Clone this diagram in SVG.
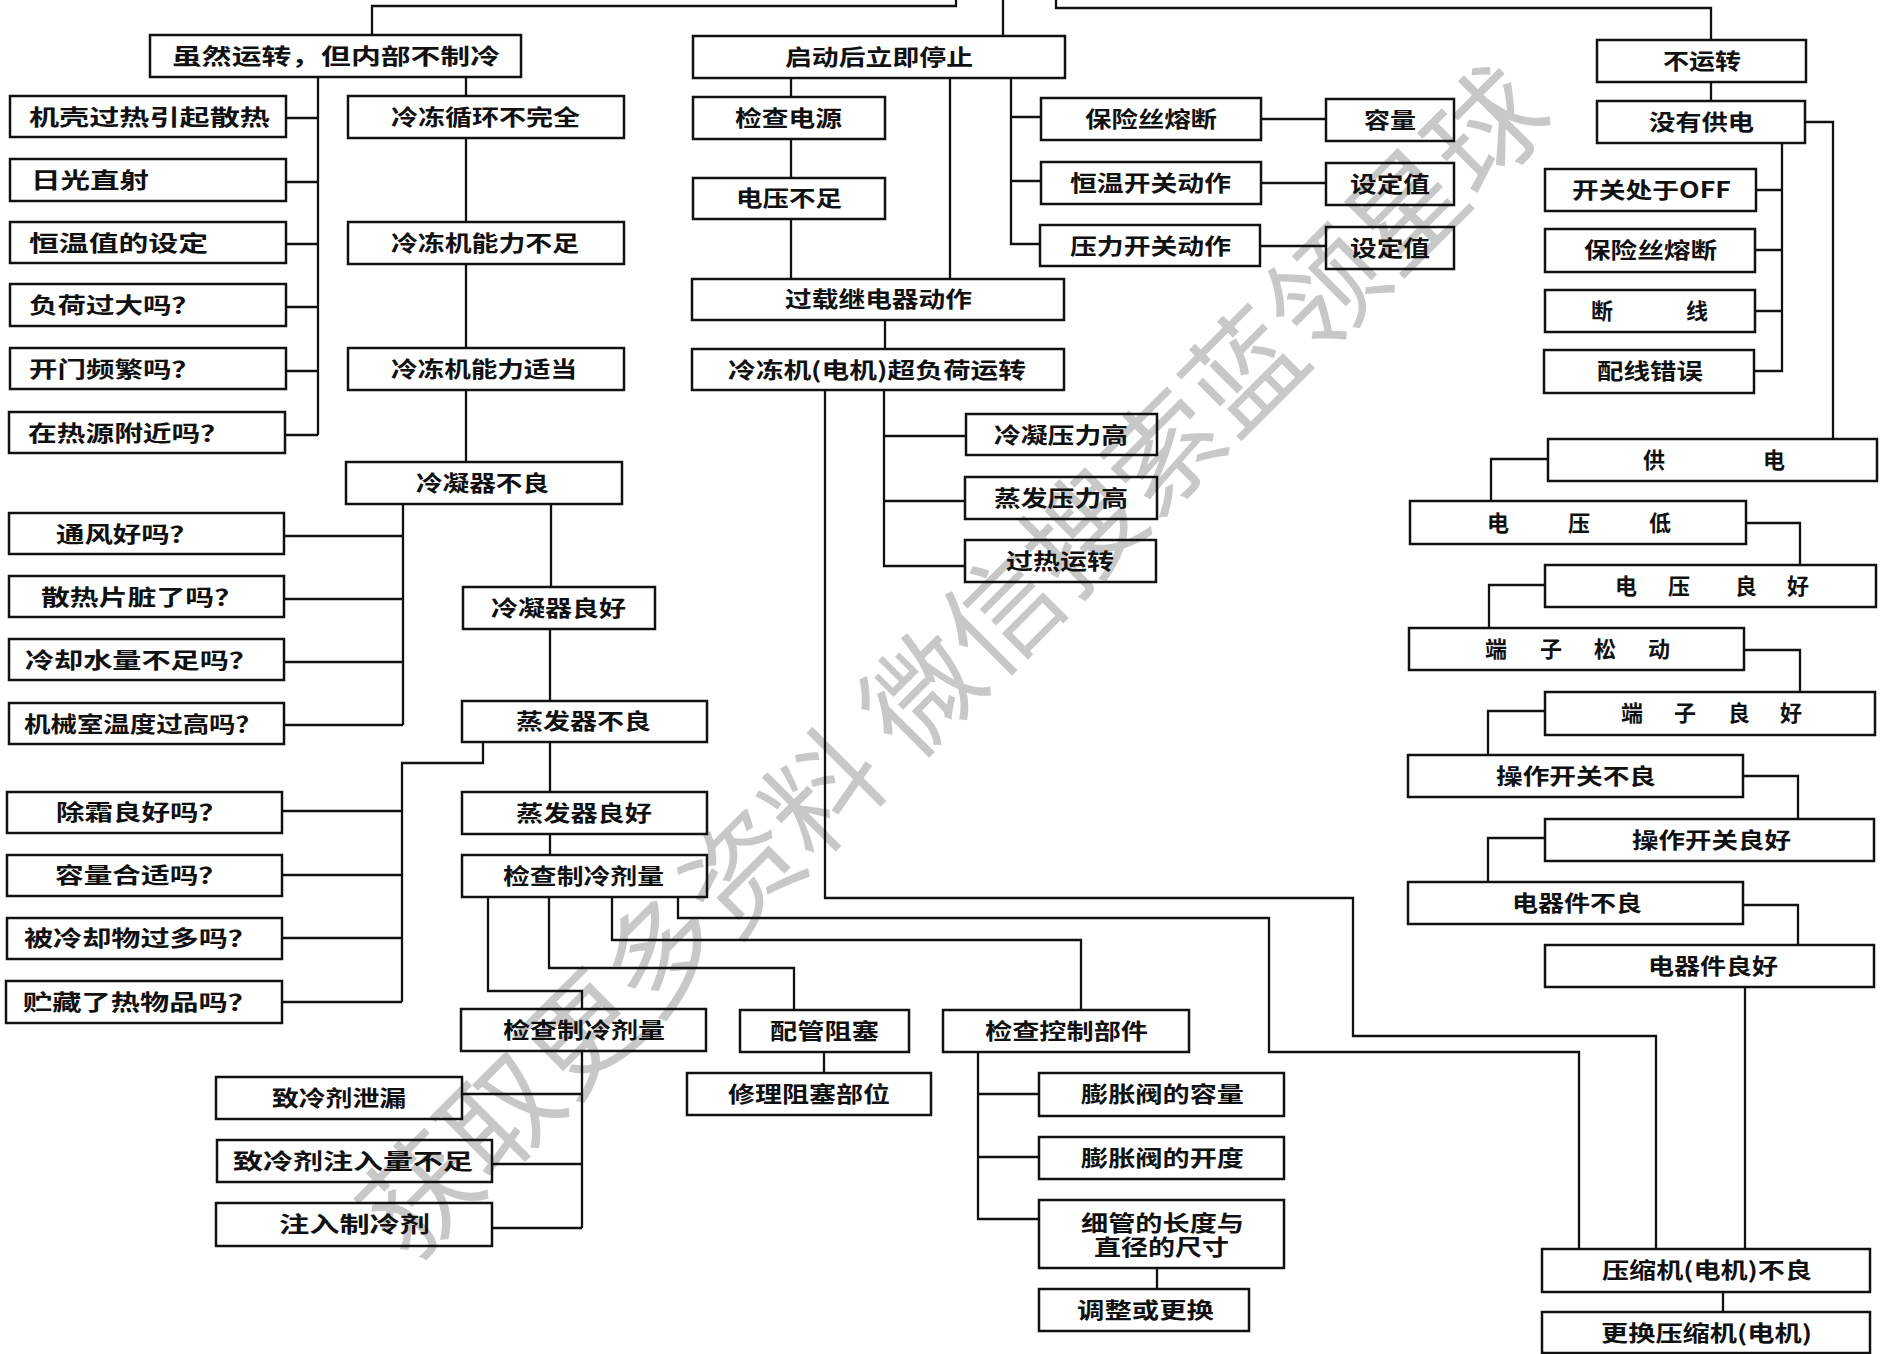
<svg xmlns="http://www.w3.org/2000/svg" width="1883" height="1354" viewBox="0 0 1883 1354">
<style>
.b{fill:none;stroke:#111;stroke-width:2.5}
#connectors path{fill:none;stroke:#111;stroke-width:2.3}
.t{font-family:"Noto Sans CJK SC","Noto Sans",sans-serif;font-size:22px;font-weight:700;fill:#111}
.wm{font-family:"Noto Sans CJK SC","Noto Sans",sans-serif;font-size:114px;fill:#c8c8c8}
</style>
<rect width="1883" height="1354" fill="#fff"/>
<g id="watermark"><text class="wm" x="953" y="704" text-anchor="middle" transform="rotate(-45 953 662)">获取更多资料 微信搜索蓝领星球</text></g>
<g id="connectors">
<path d="M372 35V6H956V0"/>
<path d="M1003 0V36"/>
<path d="M1056 0V8H1711V40"/>
<path d="M318 77V435M286 118H318M286 182H318M286 244H318M286 307H318M286 371H318M285 435H318"/>
<path d="M466 77V96M466 138V222M466 264V348M466 390V462"/>
<path d="M403 504V725M284 536H403M284 599H403M284 662H403M284 725H403"/>
<path d="M551 504V587M550 629V701"/>
<path d="M483 742V763H402V1002M282 811H402M282 875H402M282 938H402M282 1002H402"/>
<path d="M550 742V792M550 834V855"/>
<path d="M488 897V991H582V1009"/>
<path d="M549 897V968H794V1010"/>
<path d="M612 897V940H1081V1010"/>
<path d="M678 897V918H1269V1052H1579V1249"/>
<path d="M582 1051V1228M462 1094H582M492 1164H582M492 1228H582"/>
<path d="M824 1052V1073"/>
<path d="M978 1052V1219H1039M978 1094H1039M978 1157H1039"/>
<path d="M1157 1268V1289"/>
<path d="M791 78V97M791 139V178M791 219V279M950 78V279M885 320V349"/>
<path d="M1011 78V244H1040M1011 117H1041M1011 181H1041"/>
<path d="M1261 119H1326M1261 183H1326M1260 246H1326"/>
<path d="M884 390V566H965M884 436H966M884 501H965"/>
<path d="M825 390V898H1353V1036H1656V1249"/>
<path d="M1711 82V101M1805 122H1833V439M1782 143V371H1754M1756 190H1782M1755 250H1782M1755 311H1782"/>
<path d="M1548 459H1491V501M1746 523H1800V565M1545 585H1489V628M1744 650H1800V692M1545 711H1488V755M1743 776H1798V819M1545 838H1488V882M1743 905H1798V945"/>
<path d="M1745 987V1249M1723 1292V1312"/>
</g>
<g id="n_yunzhuan"><rect class="b" x="150" y="35" width="371" height="42"/><text class="t" x="172" y="64" textLength="328" lengthAdjust="spacingAndGlyphs">虽然运转，但内部不制冷</text></g>
<g id="n_jike"><rect class="b" x="10" y="96" width="276" height="41"/><text class="t" x="29" y="125" textLength="241" lengthAdjust="spacingAndGlyphs">机壳过热引起散热</text></g>
<g id="n_riguang"><rect class="b" x="10" y="159" width="276" height="42"/><text class="t" x="31" y="188" textLength="118" lengthAdjust="spacingAndGlyphs">日光直射</text></g>
<g id="n_hengwenzhi"><rect class="b" x="10" y="222" width="276" height="41"/><text class="t" x="29" y="251" textLength="179" lengthAdjust="spacingAndGlyphs">恒温值的设定</text></g>
<g id="n_fuhe"><rect class="b" x="10" y="284" width="276" height="42"/><text class="t" x="29" y="313" textLength="171" lengthAdjust="spacingAndGlyphs">负荷过大吗？</text></g>
<g id="n_kaimen"><rect class="b" x="10" y="348" width="276" height="41"/><text class="t" x="29" y="377" textLength="171" lengthAdjust="spacingAndGlyphs">开门频繁吗？</text></g>
<g id="n_reyuan"><rect class="b" x="9" y="412" width="276" height="41"/><text class="t" x="28" y="441" textLength="201" lengthAdjust="spacingAndGlyphs">在热源附近吗？</text></g>
<g id="n_xunhuan"><rect class="b" x="348" y="96" width="276" height="42"/><text class="t" x="391" y="125" textLength="189" lengthAdjust="spacingAndGlyphs">冷冻循环不完全</text></g>
<g id="n_buzu"><rect class="b" x="348" y="222" width="276" height="42"/><text class="t" x="391" y="251" textLength="188" lengthAdjust="spacingAndGlyphs">冷冻机能力不足</text></g>
<g id="n_shidang"><rect class="b" x="348" y="348" width="276" height="42"/><text class="t" x="391" y="377" textLength="186" lengthAdjust="spacingAndGlyphs">冷冻机能力适当</text></g>
<g id="n_lengning_bl"><rect class="b" x="346" y="462" width="276" height="42"/><text class="t" x="416" y="491" textLength="133" lengthAdjust="spacingAndGlyphs">冷凝器不良</text></g>
<g id="n_tongfeng"><rect class="b" x="9" y="513" width="275" height="41"/><text class="t" x="56" y="542" textLength="142" lengthAdjust="spacingAndGlyphs">通风好吗？</text></g>
<g id="n_sanre"><rect class="b" x="9" y="576" width="275" height="41"/><text class="t" x="41" y="605" textLength="202" lengthAdjust="spacingAndGlyphs">散热片脏了吗？</text></g>
<g id="n_lengque"><rect class="b" x="9" y="639" width="275" height="41"/><text class="t" x="25" y="668" textLength="233" lengthAdjust="spacingAndGlyphs">冷却水量不足吗？</text></g>
<g id="n_jixie"><rect class="b" x="9" y="703" width="275" height="41"/><text class="t" x="24" y="732" textLength="238" lengthAdjust="spacingAndGlyphs">机械室温度过高吗？</text></g>
<g id="n_lengning_lh"><rect class="b" x="463" y="587" width="192" height="42"/><text class="t" x="491" y="616" textLength="135" lengthAdjust="spacingAndGlyphs">冷凝器良好</text></g>
<g id="n_zhengfa_bl"><rect class="b" x="462" y="701" width="245" height="41"/><text class="t" x="516" y="729" textLength="135" lengthAdjust="spacingAndGlyphs">蒸发器不良</text></g>
<g id="n_chushuang"><rect class="b" x="7" y="792" width="275" height="41"/><text class="t" x="56" y="820" textLength="171" lengthAdjust="spacingAndGlyphs">除霜良好吗？</text></g>
<g id="n_rongliang_hs"><rect class="b" x="7" y="855" width="275" height="41"/><text class="t" x="55" y="883" textLength="172" lengthAdjust="spacingAndGlyphs">容量合适吗？</text></g>
<g id="n_beilengque"><rect class="b" x="7" y="918" width="275" height="41"/><text class="t" x="24" y="946" textLength="233" lengthAdjust="spacingAndGlyphs">被冷却物过多吗？</text></g>
<g id="n_zhucang"><rect class="b" x="6" y="981" width="276" height="42"/><text class="t" x="23" y="1010" textLength="234" lengthAdjust="spacingAndGlyphs">贮藏了热物品吗？</text></g>
<g id="n_zhengfa_lh"><rect class="b" x="462" y="792" width="245" height="42"/><text class="t" x="516" y="821" textLength="136" lengthAdjust="spacingAndGlyphs">蒸发器良好</text></g>
<g id="n_jiancha1"><rect class="b" x="462" y="855" width="245" height="42"/><text class="t" x="503" y="884" textLength="161" lengthAdjust="spacingAndGlyphs">检查制冷剂量</text></g>
<g id="n_jiancha2"><rect class="b" x="461" y="1009" width="245" height="42"/><text class="t" x="503" y="1038" textLength="162" lengthAdjust="spacingAndGlyphs">检查制冷剂量</text></g>
<g id="n_xielou"><rect class="b" x="216" y="1077" width="246" height="42"/><text class="t" x="272" y="1106" textLength="134" lengthAdjust="spacingAndGlyphs">致冷剂泄漏</text></g>
<g id="n_zhuru_buzu"><rect class="b" x="217" y="1140" width="275" height="42"/><text class="t" x="233" y="1169" textLength="240" lengthAdjust="spacingAndGlyphs">致冷剂注入量不足</text></g>
<g id="n_zhuru"><rect class="b" x="216" y="1203" width="276" height="43"/><text class="t" x="279" y="1232" textLength="151" lengthAdjust="spacingAndGlyphs">注入制冷剂</text></g>
<g id="n_peiguan"><rect class="b" x="740" y="1010" width="169" height="42"/><text class="t" x="770" y="1039" textLength="109" lengthAdjust="spacingAndGlyphs">配管阻塞</text></g>
<g id="n_xiuli"><rect class="b" x="687" y="1073" width="244" height="42"/><text class="t" x="728" y="1102" textLength="162" lengthAdjust="spacingAndGlyphs">修理阻塞部位</text></g>
<g id="n_kongzhi"><rect class="b" x="943" y="1010" width="246" height="42"/><text class="t" x="985" y="1039" textLength="163" lengthAdjust="spacingAndGlyphs">检查控制部件</text></g>
<g id="n_pengzhang_rl"><rect class="b" x="1039" y="1073" width="245" height="43"/><text class="t" x="1081" y="1102" textLength="163" lengthAdjust="spacingAndGlyphs">膨胀阀的容量</text></g>
<g id="n_pengzhang_kd"><rect class="b" x="1039" y="1137" width="245" height="42"/><text class="t" x="1081" y="1166" textLength="163" lengthAdjust="spacingAndGlyphs">膨胀阀的开度</text></g>
<g id="n_xiguan"><rect class="b" x="1039" y="1200" width="245" height="68"/><text class="t"><tspan x="1081" y="1231" textLength="163" lengthAdjust="spacingAndGlyphs">细管的长度与</tspan><tspan x="1094" y="1255" textLength="135" lengthAdjust="spacingAndGlyphs">直径的尺寸</tspan></text></g>
<g id="n_tiaozheng"><rect class="b" x="1039" y="1289" width="210" height="42"/><text class="t" x="1077" y="1318" textLength="137" lengthAdjust="spacingAndGlyphs">调整或更换</text></g>
<g id="n_tingzhi"><rect class="b" x="693" y="36" width="372" height="42"/><text class="t" x="785" y="65" textLength="188" lengthAdjust="spacingAndGlyphs">启动后立即停止</text></g>
<g id="n_dianyuan"><rect class="b" x="693" y="97" width="192" height="42"/><text class="t" x="735" y="126" textLength="107" lengthAdjust="spacingAndGlyphs">检查电源</text></g>
<g id="n_dianya_bz"><rect class="b" x="693" y="178" width="192" height="41"/><text class="t" x="736" y="206" textLength="106" lengthAdjust="spacingAndGlyphs">电压不足</text></g>
<g id="n_guozai"><rect class="b" x="692" y="279" width="372" height="41"/><text class="t" x="785" y="307" textLength="187" lengthAdjust="spacingAndGlyphs">过载继电器动作</text></g>
<g id="n_chaofuhe"><rect class="b" x="692" y="349" width="372" height="41"/><text class="t" x="728" y="378" textLength="298" lengthAdjust="spacingAndGlyphs">冷冻机(电机)超负荷运转</text></g>
<g id="n_baoxiansi1"><rect class="b" x="1041" y="98" width="220" height="42"/><text class="t" x="1085" y="127" textLength="132" lengthAdjust="spacingAndGlyphs">保险丝熔断</text></g>
<g id="n_hengwenkg"><rect class="b" x="1041" y="162" width="220" height="42"/><text class="t" x="1070" y="191" textLength="161" lengthAdjust="spacingAndGlyphs">恒温开关动作</text></g>
<g id="n_yalikg"><rect class="b" x="1040" y="225" width="220" height="41"/><text class="t" x="1070" y="254" textLength="161" lengthAdjust="spacingAndGlyphs">压力开关动作</text></g>
<g id="n_rongliang"><rect class="b" x="1326" y="99" width="128" height="42"/><text class="t" x="1364" y="128" textLength="52" lengthAdjust="spacingAndGlyphs">容量</text></g>
<g id="n_sheding1"><rect class="b" x="1326" y="163" width="128" height="42"/><text class="t" x="1350" y="192" textLength="80" lengthAdjust="spacingAndGlyphs">设定值</text></g>
<g id="n_sheding2"><rect class="b" x="1326" y="227" width="128" height="42"/><text class="t" x="1350" y="256" textLength="80" lengthAdjust="spacingAndGlyphs">设定值</text></g>
<g id="n_lengning_yl"><rect class="b" x="966" y="414" width="191" height="41"/><text class="t" x="994" y="443" textLength="134" lengthAdjust="spacingAndGlyphs">冷凝压力高</text></g>
<g id="n_zhengfa_yl"><rect class="b" x="965" y="477" width="192" height="42"/><text class="t" x="994" y="506" textLength="134" lengthAdjust="spacingAndGlyphs">蒸发压力高</text></g>
<g id="n_guore"><rect class="b" x="965" y="540" width="191" height="42"/><text class="t" x="1006" y="569" textLength="108" lengthAdjust="spacingAndGlyphs">过热运转</text></g>
<g id="n_buyunzhuan"><rect class="b" x="1597" y="40" width="209" height="42"/><text class="t" x="1663" y="69" textLength="78" lengthAdjust="spacingAndGlyphs">不运转</text></g>
<g id="n_meiyou"><rect class="b" x="1597" y="101" width="208" height="42"/><text class="t" x="1649" y="130" textLength="105" lengthAdjust="spacingAndGlyphs">没有供电</text></g>
<g id="n_off"><rect class="b" x="1545" y="169" width="211" height="42"/><text class="t" x="1572" y="198" textLength="159" lengthAdjust="spacingAndGlyphs">开关处于OFF</text></g>
<g id="n_baoxiansi2"><rect class="b" x="1545" y="229" width="210" height="43"/><text class="t" x="1584" y="258" textLength="133" lengthAdjust="spacingAndGlyphs">保险丝熔断</text></g>
<g id="n_duanxian"><rect class="b" x="1545" y="290" width="210" height="42"/><text class="t"><tspan x="1591" y="319">断</tspan> <tspan x="1686" y="319">线</tspan></text></g>
<g id="n_peixian"><rect class="b" x="1544" y="350" width="210" height="43"/><text class="t" x="1597" y="379" textLength="106" lengthAdjust="spacingAndGlyphs">配线错误</text></g>
<g id="n_gongdian"><rect class="b" x="1548" y="439" width="329" height="42"/><text class="t"><tspan x="1643" y="468">供</tspan> <tspan x="1763" y="468">电</tspan></text></g>
<g id="n_dianya_di"><rect class="b" x="1410" y="501" width="336" height="43"/><text class="t"><tspan x="1487" y="531">电</tspan> <tspan x="1568" y="531">压</tspan> <tspan x="1649" y="531">低</tspan></text></g>
<g id="n_dianya_lh"><rect class="b" x="1545" y="565" width="331" height="42"/><text class="t"><tspan x="1615" y="594">电</tspan> <tspan x="1668" y="594">压</tspan> <tspan x="1735" y="594">良</tspan> <tspan x="1787" y="594">好</tspan></text></g>
<g id="n_duanzi_sd"><rect class="b" x="1409" y="628" width="335" height="42"/><text class="t"><tspan x="1485" y="657">端</tspan> <tspan x="1540" y="657">子</tspan> <tspan x="1594" y="657">松</tspan> <tspan x="1648" y="657">动</tspan></text></g>
<g id="n_duanzi_lh"><rect class="b" x="1545" y="692" width="330" height="43"/><text class="t"><tspan x="1621" y="721">端</tspan> <tspan x="1674" y="721">子</tspan> <tspan x="1728" y="721">良</tspan> <tspan x="1780" y="721">好</tspan></text></g>
<g id="n_caozuo_bl"><rect class="b" x="1408" y="755" width="335" height="42"/><text class="t" x="1496" y="784" textLength="160" lengthAdjust="spacingAndGlyphs">操作开关不良</text></g>
<g id="n_caozuo_lh"><rect class="b" x="1545" y="819" width="329" height="42"/><text class="t" x="1632" y="848" textLength="159" lengthAdjust="spacingAndGlyphs">操作开关良好</text></g>
<g id="n_dianqi_bl"><rect class="b" x="1408" y="882" width="335" height="42"/><text class="t" x="1512" y="911" textLength="130" lengthAdjust="spacingAndGlyphs">电器件不良</text></g>
<g id="n_dianqi_lh"><rect class="b" x="1545" y="945" width="329" height="42"/><text class="t" x="1648" y="974" textLength="130" lengthAdjust="spacingAndGlyphs">电器件良好</text></g>
<g id="n_yasuoji_bl"><rect class="b" x="1542" y="1249" width="328" height="43"/><text class="t" x="1602" y="1278" textLength="210" lengthAdjust="spacingAndGlyphs">压缩机(电机)不良</text></g>
<g id="n_genghuan"><rect class="b" x="1542" y="1312" width="328" height="41"/><text class="t" x="1601" y="1341" textLength="211" lengthAdjust="spacingAndGlyphs">更换压缩机(电机)</text></g>
</svg>
